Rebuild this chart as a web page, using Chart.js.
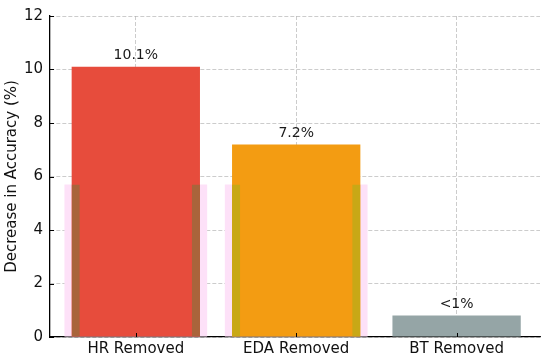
<!DOCTYPE html>
<html>
<head>
<meta charset="utf-8">
<script src="https://cdn.jsdelivr.net/npm/chart.js@4/dist/chart.umd.min.js"></script>
<style>
  html, body { margin: 0; padding: 0; background: #fff; }
  #wrap { width: 550px; height: 359px; }
</style>
</head>
<body>
<div id="wrap"><canvas id="chartAblation"></canvas></div>
<script>
/* ── Data ── */
const categories = ['HR Removed', 'EDA Removed', 'BT Removed'];
const accuracyDrop = [10.1, 7.2, 0.8];
const valueLabels = ['10.1%', '7.2%', '<1%'];
const shadowValues = [5.7, 5.7, 0];
const yTicks = [0, 2, 4, 6, 8, 10, 12];

const barColors = ['#e74c3c', '#f39c12', '#95a5a6'];
const edgeColors = ['#a9643b', '#c8a816', 'rgba(0,0,0,0)'];

const FONT = "'DejaVu Sans', sans-serif";

function points(values) {
    return values.map((v, i) => ({ x: i, y: v }));
}

/* ── Value labels above bars + inward tick marks ── */
const overlayPlugin = {
    id: 'overlay',
    afterDraw(chart) {
        const ctx = chart.ctx;
        const { x, y } = chart.scales;
        const area = chart.chartArea;

        ctx.save();
        ctx.strokeStyle = '#000';
        ctx.lineWidth = 1;
        ctx.beginPath();
        yTicks.forEach((t) => {
            const py = Math.round(y.getPixelForValue(t)) + 0.5;
            ctx.moveTo(area.left, py);
            ctx.lineTo(area.left + 4, py);
        });
        categories.forEach((c, i) => {
            const px = Math.round(x.getPixelForValue(i)) + 0.5;
            ctx.moveTo(px, area.bottom);
            ctx.lineTo(px, area.bottom - 4);
        });
        ctx.stroke();

        const meta = chart.getDatasetMeta(1);
        ctx.font = '14px ' + FONT;
        ctx.fillStyle = '#1a1a1a';
        ctx.textAlign = 'center';
        ctx.textBaseline = 'bottom';
        meta.data.forEach((bar, i) => {
            ctx.fillText(valueLabels[i], bar.x, bar.y - 4);
        });
        ctx.restore();
    }
};

const grid = {
    color: 'rgba(170,170,170,0.75)',
    lineWidth: 0.8,
    drawTicks: false,
    offset: false
};
const border = { color: '#000', width: 1.3, dash: [4, 2] };

new Chart(document.getElementById('chartAblation'), {
    type: 'bar',
    data: {
        datasets: [
            {
                // pale band behind the first two bars
                data: points(shadowValues),
                backgroundColor: '#fde1f8',
                barPercentage: 0.89,
                categoryPercentage: 1,
                order: 3
            },
            {
                data: points(accuracyDrop),
                backgroundColor: barColors,
                barPercentage: 0.8,
                categoryPercentage: 1,
                order: 2
            },
            {
                // darker side strips
                data: points(shadowValues),
                backgroundColor: 'rgba(0,0,0,0)',
                borderColor: edgeColors,
                borderWidth: { left: 8, right: 8, top: 0, bottom: 0 },
                borderSkipped: false,
                barPercentage: 0.8,
                categoryPercentage: 1,
                order: 1
            }
        ]
    },
    options: {
        responsive: true,
        maintainAspectRatio: false,
        animation: false,
        datasets: { bar: { grouped: false } },
        layout: { padding: { left: 3, right: 10, top: 6, bottom: 0 } },
        plugins: {
            legend: { display: false },
            tooltip: { enabled: false }
        },
        scales: {
            x: {
                type: 'linear',
                offset: false,
                min: -0.535,
                max: 2.52,
                z: 1,
                grid: grid,
                border: border,
                afterFit: (s) => { s.height = 22; },
                ticks: {
                    stepSize: 1,
                    includeBounds: false,
                    autoSkip: false,
                    maxRotation: 0,
                    padding: 5,
                    color: '#111',
                    font: { family: FONT, size: 15, lineHeight: 0.95 },
                    callback: (v) => categories[v] ?? ''
                }
            },
            y: {
                min: yTicks[0],
                max: yTicks[yTicks.length - 1],
                z: 1,
                grid: grid,
                border: border,
                afterFit: (s) => { s.width = 47; },
                ticks: {
                    stepSize: 2,
                    padding: 7,
                    color: '#111',
                    font: { family: FONT, size: 15 }
                },
                title: {
                    display: true,
                    text: 'Decrease in Accuracy (%)',
                    color: '#111',
                    font: { family: FONT, size: 15 },
                    padding: { top: 0, bottom: 4 }
                }
            }
        }
    },
    plugins: [overlayPlugin]
});
</script>
</body>
</html>
